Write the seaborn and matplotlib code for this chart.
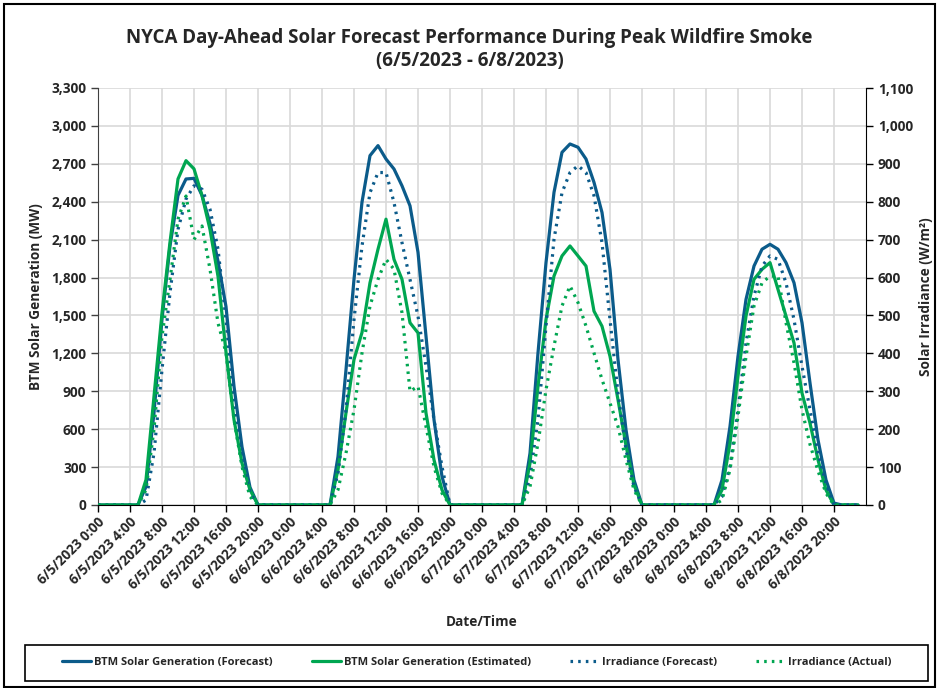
import numpy as np
import pandas as pd
import matplotlib
matplotlib.use("Agg")
import matplotlib.pyplot as plt
from matplotlib.patches import Rectangle
from matplotlib.ticker import FuncFormatter, MultipleLocator
import seaborn as sns

sns.set_style("white")
plt.rcParams['font.family'] = ['Open Sans', 'DejaVu Sans']

# hourly values, 6/5/2023 0:00 -> 6/8/2023 23:00
times = pd.date_range('2023-06-05 00:00', periods=96, freq='h')

btm_forecast = [
    0, 0, 0, 0, 0, 0, 145, 730, 1470, 2050, 2450, 2580, 2585, 2450, 2230, 1930, 1570, 940, 460, 140, 0, 0, 0, 0,
    0, 0, 0, 0, 0, 0, 383, 1071, 1786, 2397, 2765, 2844, 2738, 2659, 2526, 2368, 2000, 1336, 675, 225, 0, 0, 0, 0,
    0, 0, 0, 0, 0, 0, 410, 1204, 1918, 2474, 2791, 2857, 2831, 2738, 2553, 2315, 1865, 1151, 595, 198, 0, 0, 0, 0,
    0, 0, 0, 0, 0, 0, 198, 622, 1177, 1627, 1891, 2024, 2063, 2024, 1918, 1759, 1442, 966, 516, 198, 15, 0, 0, 0,
]
btm_estimated = [
    0, 0, 0, 0, 0, 0, 200, 860, 1520, 2080, 2580, 2725, 2660, 2450, 2180, 1810, 1210, 675, 330, 120, 0, 0, 0, 0,
    0, 0, 0, 0, 0, 0, 278, 730, 1151, 1365, 1759, 2024, 2262, 1944, 1786, 1442, 1362, 728, 357, 119, 0, 0, 0, 0,
    0, 0, 0, 0, 0, 0, 331, 939, 1468, 1812, 1971, 2050, 1971, 1891, 1534, 1415, 1177, 833, 470, 160, 0, 0, 0, 0,
    0, 0, 0, 0, 0, 0, 119, 489, 1019, 1495, 1786, 1865, 1918, 1706, 1495, 1283, 886, 648, 357, 119, 0, 0, 0, 0,
]
irr_forecast = [
    0, 0, 0, 0, 0, 0, 13, 137, 357, 560, 727, 807, 842, 833, 780, 675, 489, 270, 119, 32, 0, 0, 0, 0,
    0, 0, 0, 0, 0, 0, 84, 251, 489, 683, 824, 877, 877, 798, 692, 595, 498, 366, 225, 101, 0, 0, 0, 0,
    0, 0, 0, 0, 0, 0, 75, 225, 472, 701, 824, 877, 895, 877, 816, 692, 489, 295, 146, 48, 0, 0, 0, 0,
    0, 0, 0, 0, 0, 0, 22, 101, 251, 428, 551, 630, 657, 648, 586, 489, 366, 251, 137, 57, 0, 0, 0, 0,
]
irr_actual = [
    0, 0, 0, 0, 0, 0, 40, 200, 445, 595, 754, 815, 700, 736, 622, 480, 402, 225, 101, 22, 0, 0, 0, 0,
    0, 0, 0, 0, 0, 0, 40, 137, 251, 401, 525, 595, 648, 622, 507, 300, 313, 207, 101, 31, 0, 0, 0, 0,
    0, 0, 0, 0, 0, 0, 48, 163, 304, 419, 525, 578, 534, 472, 401, 331, 269, 207, 119, 40, 0, 0, 0, 0,
    0, 0, 0, 0, 0, 0, 13, 93, 234, 392, 525, 586, 604, 604, 481, 375, 251, 160, 90, 31, 0, 0, 0, 0,
]

df = pd.DataFrame({
    'time': times,
    'BTM Solar Generation (Forecast)': btm_forecast,
    'BTM Solar Generation (Estimated)': btm_estimated,
    'Irradiance (Forecast)': irr_forecast,
    'Irradiance (Actual)': irr_actual,
})

BLUE = '#0b5b8a'
GREEN = '#00a651'

fig = plt.figure(figsize=(9.39, 6.88), dpi=100)
ax = fig.add_axes([98 / 939, 1 - 505 / 688, 768 / 939, 417 / 688])
ax2 = ax.twinx()

sns.lineplot(data=df, x='time', y='BTM Solar Generation (Forecast)', ax=ax,
             color=BLUE, lw=2.3, label='BTM Solar Generation (Forecast)', legend=False)
sns.lineplot(data=df, x='time', y='BTM Solar Generation (Estimated)', ax=ax,
             color=GREEN, lw=2.3, label='BTM Solar Generation (Estimated)', legend=False)
sns.lineplot(data=df, x='time', y='Irradiance (Forecast)', ax=ax2,
             color=BLUE, lw=2.3, linestyle=(0, (0.8, 1.6)), label='Irradiance (Forecast)', legend=False)
sns.lineplot(data=df, x='time', y='Irradiance (Actual)', ax=ax2,
             color=GREEN, lw=2.3, linestyle=(0, (0.8, 1.6)), label='Irradiance (Actual)', legend=False)

ax.set_xlim(pd.Timestamp('2023-06-05 00:00'), pd.Timestamp('2023-06-09 00:00'))
ax.set_ylim(0, 3300)
ax2.set_ylim(0, 1100)
ax.yaxis.set_major_locator(MultipleLocator(300))
ax2.yaxis.set_major_locator(MultipleLocator(100))
comma = FuncFormatter(lambda v, p: f'{int(v):,}')
ax.yaxis.set_major_formatter(comma)
ax2.yaxis.set_major_formatter(comma)

ticks = pd.date_range('2023-06-05 00:00', '2023-06-08 20:00', freq='4h')
ax.set_xticks(ticks)
ax.set_xticklabels([f'{t.month}/{t.day}/{t.year} {t.hour}:00' for t in ticks],
                   rotation=45, ha='right', rotation_mode='anchor', fontsize=9.8, fontweight='bold')

ax.grid(True, color='#d9d9d9', lw=1.2)
ax.set_axisbelow(True)
ax2.grid(False)
for a in (ax, ax2):
    for s in a.spines.values():
        s.set_visible(False)
ax.spines['bottom'].set_visible(True)
ax.spines['bottom'].set_color('black')
ax.spines['left'].set_visible(True)
ax.spines['left'].set_color('#404040')
ax2.spines['right'].set_visible(True)
ax2.spines['right'].set_color('black')
ax.tick_params(axis='x', direction='out', length=5, width=1, color='black', bottom=True, pad=2)
ax.tick_params(axis='y', direction='out', length=5, width=1, color='#404040', left=True, labelsize=9.8)
ax2.tick_params(axis='y', direction='out', length=5, width=1, color='black', right=True, labelsize=9.8)
for lab in ax.get_yticklabels() + ax2.get_yticklabels():
    lab.set_fontweight('bold')

ax.set_xlabel('Date/Time', fontsize=9.8, fontweight='bold', labelpad=16)
ax.set_ylabel('BTM Solar Generation (MW)', fontsize=9.8, fontweight='bold', labelpad=6)
ax2.set_ylabel('Solar Irradiance (W/m²)', fontsize=9.8, fontweight='bold', labelpad=4)

fig.text(0.5, 1 - 38 / 688, 'NYCA Day-Ahead Solar Forecast Performance During Peak Wildfire Smoke',
         ha='center', va='center', fontsize=13.5, fontweight='bold')
fig.text(0.5, 1 - 61 / 688, '(6/5/2023 - 6/8/2023)',
         ha='center', va='center', fontsize=13.5, fontweight='bold')

h1, l1 = ax.get_legend_handles_labels()
h2, l2 = ax2.get_legend_handles_labels()
fig.legend(h1 + h2, l1 + l2, loc='center', bbox_to_anchor=(477 / 939, 1 - 662 / 688),
           ncol=4, frameon=False, handlelength=2.6, columnspacing=3.5,
           handletextpad=0.3, prop={'weight': 'bold', 'size': 8})

fig.patches.append(Rectangle((25 / 939, 1 - 681 / 688), 903 / 939, 36 / 688,
                             transform=fig.transFigure, fill=False, ec='black', lw=1.2))
fig.patches.append(Rectangle((4 / 939, 1 / 688), 931 / 939, 683 / 688,
                             transform=fig.transFigure, fill=False, ec='black', lw=1.5))

fig.savefig('out.png', dpi=100)
